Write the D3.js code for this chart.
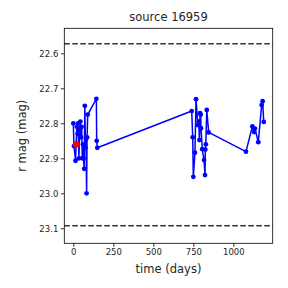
<!DOCTYPE html>
<html><head><meta charset="utf-8">
<script src="https://cdn.jsdelivr.net/npm/d3@7"></script>
<style>body{margin:0;background:#fff}svg{display:block}text{font-family:"DejaVu Sans",sans-serif;fill:#262626}</style>
</head><body><svg id="c" width="288" height="288"></svg>
<script>
const days = [0,4,14,22,27,30,35,40,44,48,52,56,60,64,68,72,76,80,83,86,90,144,146,150,
  740,746,750,760,767,778,784,788,792,796,798,806,817,823,825,828,834,846,
  1079,1119,1130,1135,1156,1177,1183,1190];
const mags = [22.80,22.865,22.907,22.81,22.83,22.80,22.90,22.82,22.795,22.84,22.81,22.90,22.86,22.90,22.93,22.75,22.87,22.845,23.0,22.84,22.775,22.73,22.85,22.87,
  22.765,22.84,22.953,22.884,22.731,22.805,22.795,22.848,22.771,22.775,22.814,22.874,22.905,22.948,22.875,22.86,22.762,22.826,
  22.881,22.809,22.825,22.815,22.854,22.748,22.737,22.796];
const redDay = [19], redMag = [22.86];
const limits = [22.5726, 23.0926];
const xTicks = [0,250,500,750,1000];
const yTicks = [22.6,22.7,22.8,22.9,23.0,23.1];
const title = "source 16959", xLabel = "time (days)", yLabel = "r mag (mag)";

const L=64.3,R=272.7,T=28.3,B=243.3;
const svg=d3.select("#c");
const x=d3.scaleLinear().domain([-56.3,1246]).range([L,R]);
const y=d3.scaleLinear().domain([22.5286,23.1429]).range([T,B]);

// dashed limit lines
svg.selectAll("line.lim").data(limits).join("line").attr("class","lim")
  .attr("x1",L).attr("x2",R).attr("y1",d=>y(d)).attr("y2",d=>y(d))
  .attr("stroke","#333").attr("stroke-width",1.5).attr("stroke-dasharray","5.5,2.5");

const pts=days.map((d,i)=>[d,mags[i]]);
svg.append("path").datum(pts).attr("fill","none").attr("stroke","#0000ff").attr("stroke-width",1.5)
  .attr("stroke-linejoin","round")
  .attr("d",d3.line().x(d=>x(d[0])).y(d=>y(d[1])));
svg.selectAll("circle.p").data(pts).join("circle").attr("class","p")
  .attr("cx",d=>x(d[0])).attr("cy",d=>y(d[1])).attr("r",2.4).attr("fill","#0000ff");
svg.selectAll("circle.r").data(redDay).join("circle").attr("class","r")
  .attr("cx",d=>x(d)).attr("cy",(d,i)=>y(redMag[i])).attr("r",3.3).attr("fill","#ff0000");

const xa=svg.append("g").attr("transform",`translate(0,${B})`)
  .call(d3.axisBottom(x).tickValues(xTicks).tickFormat(d3.format("d")).tickSize(3.5).tickPadding(2.5));
const ya=svg.append("g").attr("transform",`translate(${L},0)`)
  .call(d3.axisLeft(y).tickValues(yTicks).tickFormat(d3.format(".1f")).tickSize(3.5).tickPadding(2.5));
[xa,ya].forEach(a=>{a.select(".domain").remove();a.selectAll("line").attr("stroke","#000").attr("stroke-width",0.8);
  a.selectAll("text").attr("font-size",8.5).attr("fill","#262626").attr("font-family","DejaVu Sans");});

svg.append("rect").attr("x",L).attr("y",T).attr("width",R-L).attr("height",B-T)
  .attr("fill","none").attr("stroke","#000").attr("stroke-width",0.8);

svg.append("text").attr("x",(L+R)/2).attr("y",21).attr("text-anchor","middle").attr("font-size",11.5).text(title);
svg.append("text").attr("x",(L+R)/2).attr("y",273).attr("text-anchor","middle").attr("font-size",11.5).text(xLabel);
svg.append("text").attr("transform",`translate(26,${(T+B)/2}) rotate(-90)`).attr("text-anchor","middle").attr("font-size",11.5).text(yLabel);
</script></body></html>
